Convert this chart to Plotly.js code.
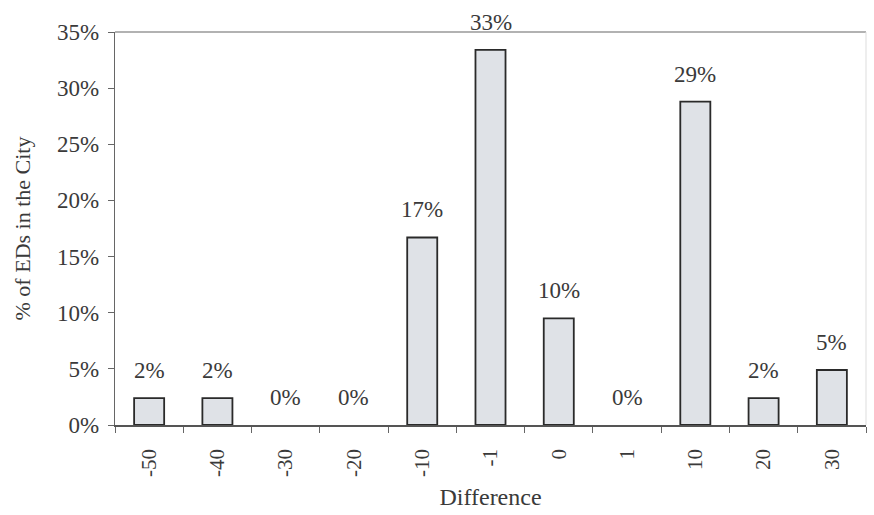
<!DOCTYPE html>
<html>
<head>
<meta charset="utf-8">
<script src="https://cdn.plot.ly/plotly-3.0.1.min.js"></script>
<style>html,body{margin:0;padding:0;background:#fff;}#chart{width:874px;height:515px;}</style>
</head>
<body>
<div id="chart"></div>
<script>
var categories = ['-50', '-40', '-30', '-20', '-10', '-1', '0', '1', '10', '20', '30'];
var percentValues = [2.4, 2.4, 0, 0, 16.7, 33.4, 9.5, 0, 28.8, 2.4, 4.9];
var yTickValues = [0, 5, 10, 15, 20, 25, 30, 35];

var serif = '"Liberation Serif", "Times New Roman", "DejaVu Serif", serif';
var textColor = '#3a3a3a';
var positions = categories.map(function (c, i) { return i; });

var trace = {
  type: 'bar',
  x: positions,
  y: percentValues,
  marker: {
    color: '#dfe2e7',
    line: {
      color: '#2a2a2a',
      width: percentValues.map(function (v) { return v > 0 ? 1.8 : 0; })
    }
  },
  hoverinfo: 'y'
};

var annotations = positions.map(function (p, i) {
  return {
    x: p, y: percentValues[i], xref: 'x', yref: 'y',
    text: Math.round(percentValues[i]) + '%',
    showarrow: false, yanchor: 'bottom', yshift: 13,
    font: { family: serif, size: 23, color: textColor }
  };
});

var layout = {
  width: 874, height: 515,
  margin: { l: 115, r: 8, t: 32, b: 90 },
  paper_bgcolor: '#fff', plot_bgcolor: '#fff',
  showlegend: false,
  bargap: 0.56,
  font: { family: serif, size: 22, color: textColor },
  xaxis: {
    type: 'linear',
    range: [-0.5, categories.length - 0.5],
    tickvals: positions,
    ticktext: categories,
    tickangle: -90,
    ticks: '',
    ticklabelstandoff: 14,
    minor: { tick0: -0.5, dtick: 1, ticks: 'outside', ticklen: 6, tickcolor: '#666', showgrid: false },
    showline: true, linecolor: '#555', linewidth: 1.5,
    showgrid: false, zeroline: false,
    tickfont: { family: serif, size: 21, color: textColor },
    title: { text: 'Difference', font: { family: serif, size: 24, color: textColor }, standoff: 12 }
  },
  yaxis: {
    range: [0, 35],
    tickvals: yTickValues,
    ticktext: yTickValues.map(function (v) { return v + '%'; }),
    ticks: 'outside', ticklen: 6, tickcolor: '#666',
    ticklabelstandoff: 4,
    showline: true, linecolor: '#666', linewidth: 1.2,
    showgrid: false, zeroline: false,
    tickfont: { family: serif, size: 23, color: textColor },
    title: { text: '% of EDs in the City', font: { family: serif, size: 22, color: textColor }, standoff: 20 }
  },
  shapes: [
    { type: 'line', xref: 'paper', yref: 'paper', x0: 0, x1: 1, y0: 1, y1: 1, line: { color: '#999', width: 1.5 } },
    { type: 'line', xref: 'paper', yref: 'paper', x0: 1, x1: 1, y0: 0, y1: 1, line: { color: '#ddd', width: 1 } }
  ],
  annotations: annotations
};

Plotly.newPlot('chart', [trace], layout, { displayModeBar: false, staticPlot: true });
</script>
</body>
</html>
